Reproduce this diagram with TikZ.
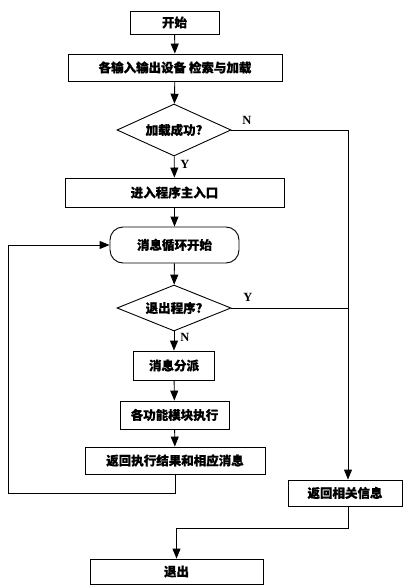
\documentclass[tikz,border=0pt]{standalone}
\usepackage{fontspec}
\setmainfont{Liberation Serif}
\newfontfamily\cjk[BoldFeatures={FakeBold=0.6}]{Noto Sans CJK SC}
\usetikzlibrary{shapes.geometric,arrows.meta,calc}
\begin{document}
\begin{tikzpicture}[x=1pt,y=-1pt,
  every node/.style={font=\cjk\bfseries\fontsize{12.5}{14}\selectfont},
  box/.style={draw,line width=0.9pt,inner sep=0pt,anchor=center},
  dia/.style={draw,diamond,line width=0.9pt,inner sep=0pt,aspect=2.2},
  lbl/.style={font=\rmfamily\bfseries\fontsize{12.5}{13}\selectfont,inner sep=0pt},
  arr/.style={line width=0.9pt,-{Triangle[length=10pt,width=8pt]}},
  ln/.style={line width=0.9pt}]
\useasboundingbox (0,0) rectangle (403,585);
\node[box,minimum width=89pt,minimum height=23pt] (start) at (174.5,22.5) {开始};
\node[box,minimum width=214pt,minimum height=27pt] (load) at (175,67.5) {各输入输出设备 检索与加载};
\node[dia,minimum width=114pt,minimum height=52pt] (d1) at (174,130) {加载成功?};
\node[box,minimum width=219pt,minimum height=29pt] (entry) at (174.5,192.5) {进入程序主入口};
\node[box,rounded corners=13pt,minimum width=129pt,minimum height=36pt] (loop) at (174.5,245) {消息循环开始};
\node[dia,minimum width=114pt,minimum height=46pt] (d2) at (174,308) {退出程序?};
\node[box,minimum width=81pt,minimum height=29pt] (dispatch) at (174,365.5) {消息分派};
\node[box,minimum width=109pt,minimum height=28pt] (exec) at (174.5,415) {各功能模块执行};
\node[box,minimum width=180pt,minimum height=27pt] (ret) at (175,460.5) {返回执行结果和相应消息};
\node[box,minimum width=114pt,minimum height=26pt] (info) at (345,493) {返回相关信息};
\node[box,minimum width=173pt,minimum height=25pt] (exit) at (176.5,571.5) {退出};

\node[lbl] (n1) at (247,120) {N};
\node[lbl] (y1) at (185,164) {Y};
\node[lbl] (y2) at (248,297) {Y};
\node[lbl] (n2) at (185,337) {N};

\coordinate (rx) at (348,130);
\coordinate (lx) at (8,493);
\coordinate (bx) at (348,528);

\draw[arr] (start) -- (load);
\draw[arr] (load) -- (d1);
\draw[arr] (d1) -- (entry);
\draw[arr] (entry) -- (loop);
\draw[arr] (loop) -- (d2);
\draw[arr] (d2) -- (dispatch);
\draw[arr] (dispatch) -- (exec);
\draw[arr] (exec) -- (ret);
\draw[arr] (ret.south) |- (lx) |- (loop.west);
\draw[arr] (d1.east) -- (rx) -- (rx |- info.north);
\draw[ln] (d2.east) -- (d2.east -| rx);
\draw[arr] (info.south -| rx) -- (bx) -| (exit.north);
\end{tikzpicture}
\end{document}
